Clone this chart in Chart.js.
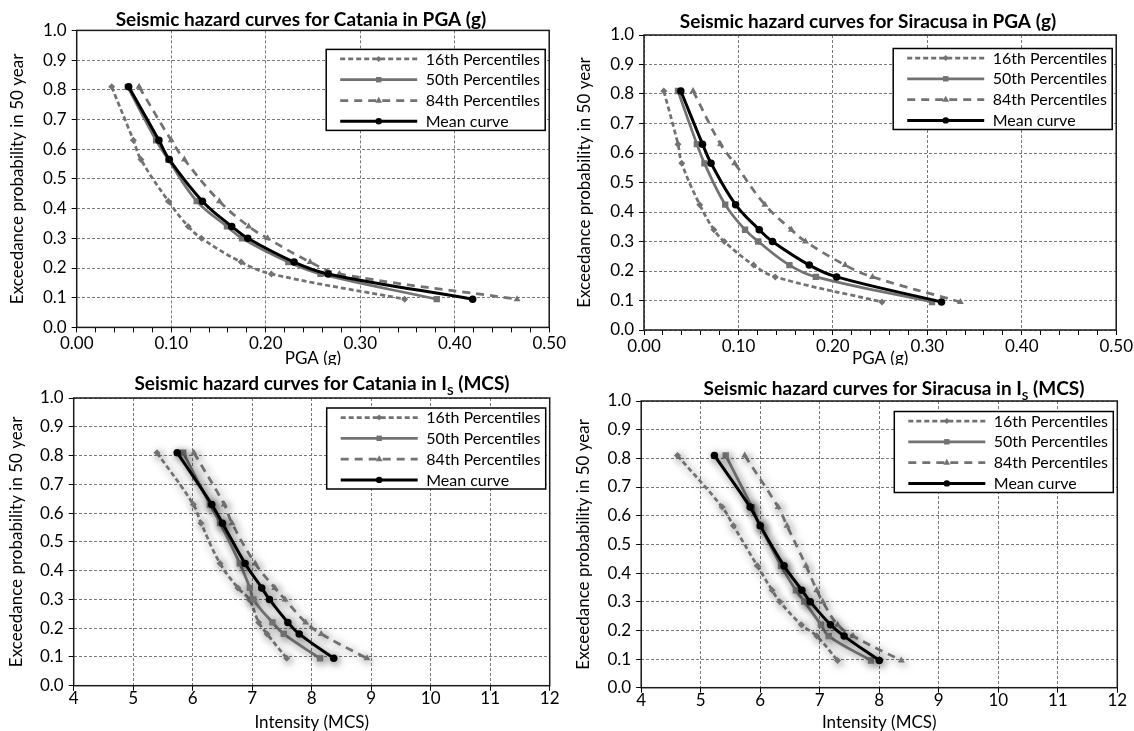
<!DOCTYPE html>
<html>
<head>
<meta charset="utf-8">
<title>Seismic hazard curves - Catania and Siracusa</title>
<script src="https://cdn.jsdelivr.net/npm/chart.js@4.4.1/dist/chart.umd.min.js"></script>
<style>
    html, body { margin: 0; padding: 0; background: #fff; }
    #page { position: relative; width: 1134px; height: 731px; overflow: hidden; background: #fff; }
    #page canvas { position: absolute; display: block; }
</style>
</head>
<body>
<div id="page">
    <canvas id="cataniaPga" width="567" height="365" style="left:0;top:0"></canvas>
    <canvas id="siracusaPga" width="567" height="365" style="left:567px;top:0"></canvas>
    <canvas id="cataniaMcs" width="567" height="366" style="left:0;top:365px"></canvas>
    <canvas id="siracusaMcs" width="567" height="366" style="left:567px;top:365px"></canvas>
</div>
<script>
// ==========================================
// DATA
// ==========================================

// Exceedance probability in 50 years, shared by every curve
const probabilities = [0.81, 0.63, 0.565, 0.425, 0.34, 0.30, 0.22, 0.18, 0.095];
const seriesNames = ['16th Percentiles', '50th Percentiles', '84th Percentiles', 'Mean curve'];

// Catania - PGA (g)
const cataniaPga16 = [0.037, 0.060, 0.068, 0.097, 0.118, 0.132, 0.174, 0.206, 0.347];
const cataniaPga50 = [0.054, 0.084, 0.097, 0.127, 0.159, 0.175, 0.224, 0.258, 0.381];
const cataniaPga84 = [0.066, 0.100, 0.114, 0.151, 0.182, 0.202, 0.247, 0.278, 0.466];
const cataniaPgaMean = [0.055, 0.087, 0.098, 0.133, 0.164, 0.181, 0.230, 0.266, 0.419];

// Siracusa - PGA (g)
const siracusaPga16 = [0.021, 0.036, 0.040, 0.059, 0.074, 0.085, 0.116, 0.139, 0.252];
const siracusaPga50 = [0.036, 0.056, 0.064, 0.086, 0.107, 0.121, 0.154, 0.182, 0.305];
const siracusaPga84 = [0.052, 0.081, 0.096, 0.128, 0.156, 0.171, 0.213, 0.242, 0.335];
const siracusaPgaMean = [0.039, 0.062, 0.071, 0.097, 0.122, 0.136, 0.175, 0.204, 0.315];

// Catania - intensity (MCS)
const cataniaMcs16 = [5.40, 6.01, 6.14, 6.46, 6.76, 6.95, 7.11, 7.25, 7.58];
const cataniaMcs50 = [5.84, 6.29, 6.46, 6.79, 6.96, 7.02, 7.34, 7.53, 8.14];
const cataniaMcs84 = [6.02, 6.53, 6.66, 7.05, 7.38, 7.55, 7.90, 8.16, 8.93];
const cataniaMcsMean = [5.74, 6.32, 6.50, 6.88, 7.16, 7.29, 7.60, 7.79, 8.37];

// Siracusa - intensity (MCS)
const siracusaMcs16 = [4.61, 5.36, 5.55, 5.95, 6.20, 6.33, 6.69, 6.95, 7.30];
const siracusaMcs50 = [5.42, 5.86, 6.00, 6.35, 6.60, 6.74, 7.02, 7.15, 7.86];
const siracusaMcs84 = [5.74, 6.30, 6.45, 6.77, 6.95, 7.05, 7.30, 7.56, 8.37];
const siracusaMcsMean = [5.23, 5.83, 6.00, 6.40, 6.70, 6.84, 7.18, 7.41, 8.00];

// Tick values and labels
const probTicks = [0, 0.1, 0.2, 0.3, 0.4, 0.5, 0.6, 0.7, 0.8, 0.9, 1.0];
const probTickLabels = ['0.0', '0.1', '0.2', '0.3', '0.4', '0.5', '0.6', '0.7', '0.8', '0.9', '1.0'];
const pgaTicks = [0, 0.1, 0.2, 0.3, 0.4, 0.5];
const pgaTickLabels = ['0.00', '0.10', '0.20', '0.30', '0.40', '0.50'];
const mcsTicks = [4, 5, 6, 7, 8, 9, 10, 11, 12];
const mcsTickLabels = ['4', '5', '6', '7', '8', '9', '10', '11', '12'];

// ==========================================
// STYLES
// ==========================================
const GREY = '#727272';
const GRID = '#7a7a7a';
const AXIS_FONT = 17;

const seriesStyles = [
    { borderColor: GREY, backgroundColor: GREY, borderWidth: 2.75, borderDash: [5, 3], pointStyle: 'rectRot', pointRadius: 3.5, order: 3 },
    { borderColor: GREY, backgroundColor: GREY, borderWidth: 2.75, borderDash: [], pointStyle: 'rect', pointRadius: 4.5, order: 2 },
    { borderColor: GREY, backgroundColor: GREY, borderWidth: 2.75, borderDash: [8, 6], pointStyle: 'triangle', pointRadius: 4, order: 1 },
    { borderColor: '#000', backgroundColor: '#000', borderWidth: 3, borderDash: [], pointStyle: 'circle', pointRadius: 3.75, order: 0 }
];

Chart.defaults.font.family = 'Lato';
Chart.defaults.color = '#000';

// ==========================================
// PLUGINS
// ==========================================

// Bold title with optional subscript parts
const panelTitle = {
    id: 'panelTitle',
    afterDraw(chart, args, opts) {
        const ctx = chart.ctx;
        const mainFont = 'bold ' + opts.size + 'px Lato';
        const subFont = 'bold ' + Math.round(opts.size * 0.62) + 'px Lato';
        ctx.save();
        ctx.fillStyle = '#000';
        ctx.textBaseline = 'alphabetic';
        let total = 0;
        opts.parts.forEach(p => {
            ctx.font = p.sub ? subFont : mainFont;
            total += ctx.measureText(p.text).width;
        });
        let x = opts.x - total / 2;
        opts.parts.forEach(p => {
            ctx.font = p.sub ? subFont : mainFont;
            ctx.fillText(p.text, x, opts.y + (p.sub ? opts.size * 0.28 : 0));
            x += ctx.measureText(p.text).width;
        });
        ctx.restore();
    }
};

// Solid box around the plot area
const plotFrame = {
    id: 'plotFrame',
    beforeDatasetsDraw(chart) {
        const { ctx, chartArea: a } = chart;
        ctx.save();
        ctx.strokeStyle = '#1a1a1a';
        ctx.lineWidth = 1.5;
        ctx.strokeRect(a.left, a.top, a.right - a.left, a.bottom - a.top);
        ctx.restore();
    }
};

// Soft drop shadow under the curves
const softShadow = {
    id: 'softShadow',
    beforeDatasetsDraw(chart, args, opts) {
        if (!opts.blur) return;
        const ctx = chart.ctx;
        ctx.save();
        ctx.shadowColor = opts.color;
        ctx.shadowBlur = opts.blur;
        ctx.shadowOffsetX = opts.offset;
        ctx.shadowOffsetY = opts.offset;
    },
    afterDatasetsDraw(chart, args, opts) {
        if (opts.blur) chart.ctx.restore();
    }
};

function drawMarker(ctx, style, r, x, y, color) {
    ctx.fillStyle = color;
    ctx.beginPath();
    if (style === 'circle') {
        ctx.arc(x, y, r, 0, Math.PI * 2);
    } else if (style === 'rect') {
        const s = r * Math.SQRT1_2;
        ctx.rect(x - s, y - s, 2 * s, 2 * s);
    } else if (style === 'rectRot') {
        ctx.moveTo(x, y - r);
        ctx.lineTo(x + r, y);
        ctx.lineTo(x, y + r);
        ctx.lineTo(x - r, y);
    } else if (style === 'triangle') {
        ctx.moveTo(x, y - r * 1.1);
        ctx.lineTo(x + r, y + r * 0.65);
        ctx.lineTo(x - r, y + r * 0.65);
    }
    ctx.closePath();
    ctx.fill();
}

// Boxed legend inside the top right corner of the plot
const insetLegend = {
    id: 'insetLegend',
    afterDraw(chart, args, opts) {
        const { ctx, chartArea: a } = chart;
        const w = 219, h = 81;
        const left = a.right - opts.right - w;
        const top = a.top + opts.top;
        ctx.save();
        ctx.fillStyle = '#fff';
        ctx.fillRect(left, top, w, h);
        ctx.strokeStyle = '#000';
        ctx.lineWidth = 1.5;
        ctx.strokeRect(left, top, w, h);
        chart.data.datasets.forEach((ds, i) => {
            const y = top + 9.5 + i * 20.8;
            ctx.save();
            ctx.strokeStyle = ds.borderColor;
            ctx.lineWidth = ds.borderWidth;
            ctx.setLineDash(ds.borderDash);
            ctx.beginPath();
            ctx.moveTo(left + 14, y);
            ctx.lineTo(left + 91, y);
            ctx.stroke();
            ctx.setLineDash([]);
            drawMarker(ctx, ds.pointStyle, ds.pointRadius * 0.85, left + 52.5, y, ds.backgroundColor);
            ctx.restore();
            ctx.fillStyle = '#000';
            ctx.font = '16px Lato';
            ctx.textBaseline = 'middle';
            ctx.fillText(ds.label, left + 99.5, y + 0.5);
        });
        ctx.restore();
    }
};

// ==========================================
// CHART BUILDERS
// ==========================================
function tickLabel(value, ticks, labels) {
    const i = ticks.findIndex(t => Math.abs(t - value) < 1e-9);
    return i < 0 ? '' : labels[i];
}

function majorGrid(ticks) {
    return ctx => (ctx.tick && ticks.some(t => Math.abs(t - ctx.tick.value) < 1e-9)) ? GRID : 'rgba(0,0,0,0)';
}

function buildDatasets(curves) {
    return curves.map((xs, i) => Object.assign({
        label: seriesNames[i],
        data: xs.map((x, j) => ({ x: x, y: probabilities[j] })),
        tension: 0.4,
        pointBorderWidth: 0,
        fill: false
    }, seriesStyles[i]));
}

function createChart(id, panel) {
    const g = panel.geometry;
    const canvas = document.getElementById(id);
    return new Chart(canvas, {
        type: 'line',
        data: { datasets: buildDatasets(panel.curves) },
        options: {
            responsive: false,
            animation: false,
            events: [],
            layout: { padding: { left: 0, right: canvas.width - g.right, top: g.top, bottom: 0 } },
            scales: {
                x: {
                    type: 'linear',
                    min: panel.xTicks[0],
                    max: panel.xTicks[panel.xTicks.length - 1],
                    ticks: {
                        stepSize: panel.xStep,
                        autoSkip: false,
                        maxRotation: 0,
                        minRotation: 0,
                        padding: panel.xTickPad,
                        font: { size: AXIS_FONT },
                        callback: v => tickLabel(v, panel.xTicks, panel.xLabels)
                    },
                    grid: { color: majorGrid(panel.xTicks), tickColor: '#000', tickLength: 5, lineWidth: 1 },
                    border: { display: false, dash: [3, 2] },
                    title: { display: true, text: panel.xTitle, font: { size: AXIS_FONT }, padding: { top: 0, bottom: panel.xTitlePad } },
                    afterFit(scale) { scale.height = canvas.height - g.bottom; }
                },
                y: {
                    type: 'linear',
                    min: 0,
                    max: 1,
                    ticks: {
                        stepSize: 0.1,
                        autoSkip: false,
                        padding: 5,
                        font: { size: AXIS_FONT },
                        callback: v => tickLabel(v, probTicks, probTickLabels)
                    },
                    grid: { color: majorGrid(probTicks), tickColor: '#000', tickLength: 5, lineWidth: 1 },
                    border: { display: false, dash: [3, 2] },
                    title: { display: true, text: 'Exceedance probability in 50 year', font: { size: AXIS_FONT }, padding: { top: panel.yTitlePad, bottom: 0 } },
                    afterFit(scale) { scale.width = g.left; }
                }
            },
            plugins: {
                legend: { display: false },
                tooltip: { enabled: false },
                panelTitle: { parts: panel.title, x: panel.titleX, y: panel.titleY, size: 19 },
                insetLegend: { right: 4, top: panel.legendTop },
                softShadow: panel.shadow
            }
        },
        plugins: [plotFrame, softShadow, insetLegend, panelTitle]
    });
}

// ==========================================
// PANELS
// ==========================================
document.addEventListener('DOMContentLoaded', function() {
    const pgaAxis = { xTicks: pgaTicks, xLabels: pgaTickLabels, xStep: 0.02, xTitle: 'PGA (g)', xTickPad: 1, xTitlePad: -4 };
    const mcsAxis = { xTicks: mcsTicks, xLabels: mcsTickLabels, xStep: 1, xTitle: 'Intensity (MCS)', xTickPad: -2, xTitlePad: -2 };
    const blurred = { blur: 9, offset: 2, color: 'rgba(0,0,0,0.6)' };

    createChart('cataniaPga', Object.assign({
        curves: [cataniaPga16, cataniaPga50, cataniaPga84, cataniaPgaMean],
        geometry: { left: 76.7, right: 551.5, top: 30.4, bottom: 327.4 },
        title: [{ text: 'Seismic hazard curves for Catania in PGA (g)' }],
        titleX: 301, titleY: 26, yTitlePad: 7.8, legendTop: 19, shadow: {}
    }, pgaAxis));

    createChart('siracusaPga', Object.assign({
        curves: [siracusaPga16, siracusaPga50, siracusaPga84, siracusaPgaMean],
        geometry: { left: 77, right: 549.5, top: 35, bottom: 330 },
        title: [{ text: 'Seismic hazard curves for Siracusa in PGA (g)' }],
        titleX: 301, titleY: 28, yTitlePad: 7.8, legendTop: 13.5, shadow: {}
    }, pgaAxis));

    createChart('cataniaMcs', Object.assign({
        curves: [cataniaMcs16, cataniaMcs50, cataniaMcs84, cataniaMcsMean],
        geometry: { left: 73.7, right: 549.7, top: 33, bottom: 320.7 },
        title: [{ text: 'Seismic hazard curves for Catania in I' }, { text: 'S', sub: true }, { text: ' (MCS)' }],
        titleX: 322, titleY: 25, yTitlePad: 6, legendTop: 10, shadow: blurred
    }, mcsAxis));

    createChart('siracusaMcs', Object.assign({
        curves: [siracusaMcs16, siracusaMcs50, siracusaMcs84, siracusaMcsMean],
        geometry: { left: 74.2, right: 550.3, top: 36, bottom: 322.7 },
        title: [{ text: 'Seismic hazard curves for Siracusa in I' }, { text: 'S', sub: true }, { text: ' (MCS)' }],
        titleX: 327, titleY: 30, yTitlePad: 6, legendTop: 10.5, shadow: blurred
    }, mcsAxis));
});
</script>
</body>
</html>
